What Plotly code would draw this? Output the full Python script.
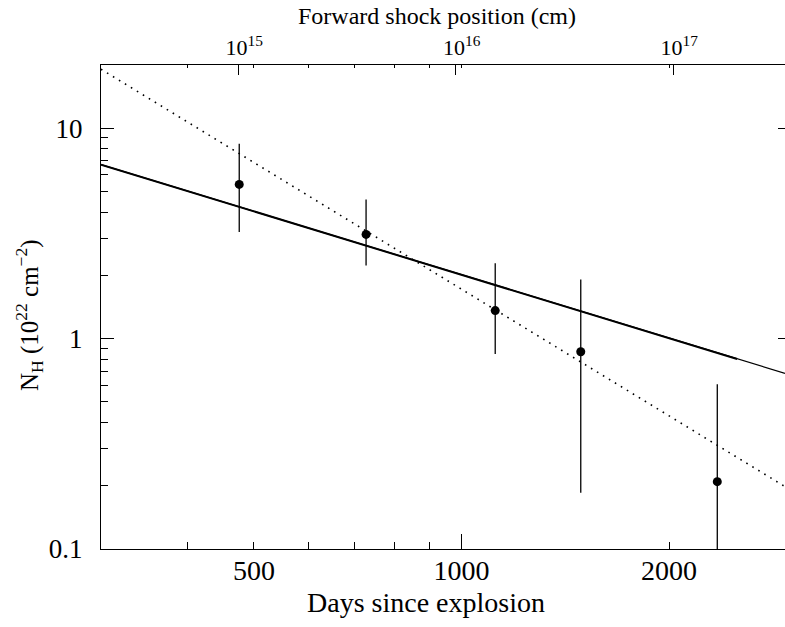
import plotly.graph_objects as go
import math

# ---- data ----
days = [476, 727, 1119, 1489, 2349]
nh = [5.41, 3.13, 1.36, 0.866, 0.209]
nh_lo = [3.21, 2.23, 0.845, 0.185, 0.1]
nh_hi = [8.44, 4.59, 2.28, 1.91, 0.607]

# model lines (endpoints)
solid_days = [300, 2945]
solid_nh = [6.72, 0.684]
solid_thick_days = [300, 2510]
solid_thick_nh = [6.72, 0.80]
dotted_days = [300, 2945]
dotted_nh = [19.1, 0.198]

x_ticks = [500, 1000, 2000]
x_ticktext = ["500", "1000", "2000"]
x_minor = [400, 600, 700, 800, 900]
y_ticks = [0.1, 1, 10]
y_ticktext = ["0.1", "1", "10"]
y_minor = [0.2, 0.3, 0.4, 0.5, 0.6, 0.7, 0.8, 0.9, 2, 3, 4, 5, 6, 7, 8, 9]
top_ticks = [1e15, 1e16, 1e17]
top_ticktext = ["10<sup>15</sup>", "10<sup>16</sup>", "10<sup>17</sup>"]
top_mirror_ticks = [400, 500, 600, 700, 800, 900, 1000, 2000]

x_title = "Days since explosion"
top_title = "Forward shock position (cm)"
y_title = "N<sub>H</sub> (10<sup>22</sup> cm<sup>\u22122</sup>)"

X_RANGE = [math.log10(300), math.log10(2945)]
Y_RANGE = [-1, math.log10(20)]
TOP_RANGE = [14.369, 17.514]

FONT = "Liberation Serif"
BLACK = "#000000"

W, H = 785, 627
ML, MR, MT, MB = 101, 0, 65, 78
PW = W - ML - MR
PH = H - MT - MB


def px_x(px):
    return (px - ML) / PW


def px_y(py):
    return (H - MB - py) / PH


fig = go.Figure()

fig.add_trace(go.Scatter(x=dotted_days, y=dotted_nh, mode="lines",
                         line=dict(color=BLACK, width=1.6, dash="1.6px,5.4px"),
                         showlegend=False, hoverinfo="skip"))
fig.add_trace(go.Scatter(x=solid_days, y=solid_nh, mode="lines",
                         line=dict(color=BLACK, width=1.2),
                         showlegend=False, hoverinfo="skip"))
fig.add_trace(go.Scatter(x=solid_thick_days, y=solid_thick_nh, mode="lines",
                         line=dict(color=BLACK, width=2.0),
                         showlegend=False, hoverinfo="skip"))

err_plus = [h - v for h, v in zip(nh_hi, nh)]
err_minus = [v - l for v, l in zip(nh, nh_lo)]
fig.add_trace(go.Scatter(x=days, y=nh, mode="markers",
                         marker=dict(color=BLACK, size=9),
                         error_y=dict(type="data", symmetric=False, array=err_plus,
                                      arrayminus=err_minus, width=0, thickness=1.3,
                                      color=BLACK),
                         showlegend=False))

# invisible traces for helper axes
fig.add_trace(go.Scatter(x=[1e15], y=[1], xaxis="x2", yaxis="y", mode="markers",
                         marker=dict(opacity=0), showlegend=False, hoverinfo="skip"))
fig.add_trace(go.Scatter(x=[1000], y=[1], xaxis="x3", yaxis="y", mode="markers",
                         marker=dict(opacity=0), showlegend=False, hoverinfo="skip"))
fig.add_trace(go.Scatter(x=[1000], y=[1], xaxis="x4", yaxis="y", mode="markers",
                         marker=dict(opacity=0), showlegend=False, hoverinfo="skip"))
fig.add_trace(go.Scatter(x=[1000], y=[1], xaxis="x", yaxis="y2", mode="markers",
                         marker=dict(opacity=0), showlegend=False, hoverinfo="skip"))

common = dict(showgrid=False, zeroline=False, color=BLACK)

fig.update_layout(
    width=W, height=H,
    margin=dict(l=ML, r=MR, t=MT, b=MB, pad=0),
    paper_bgcolor="white", plot_bgcolor="white",
    font=dict(family=FONT, size=27, color=BLACK),
    xaxis=dict(type="log", range=X_RANGE, tickmode="array", tickvals=x_ticks,
               ticktext=x_ticktext, ticks="inside", ticklen=7, tickwidth=1,
               tickcolor=BLACK, showline=True, linecolor=BLACK, linewidth=1.3,
               mirror=False, tickfont=dict(size=28, family=FONT),
               ticklabelstandoff=-4,
               minor=dict(tickvals=x_minor, ticks="inside", ticklen=7,
                          tickcolor=BLACK, tickwidth=1, showgrid=False),
               automargin=False, **common),
    xaxis3=dict(type="log", range=X_RANGE, overlaying="x", anchor="y", side="bottom",
                tickmode="array", tickvals=[1000], ticks="inside", ticklen=15,
                tickwidth=1, tickcolor=BLACK, showticklabels=False, showline=False,
                automargin=False, **common),
    xaxis4=dict(type="log", range=X_RANGE, overlaying="x", anchor="y", side="top",
                tickmode="array", tickvals=top_mirror_ticks, ticks="inside", ticklen=3,
                tickwidth=1, tickcolor=BLACK, showticklabels=False, showline=False,
                automargin=False, **common),
    xaxis2=dict(type="log", range=TOP_RANGE, overlaying="x", anchor="y", side="top",
                tickmode="array", tickvals=top_ticks, ticktext=top_ticktext,
                ticks="inside", ticklen=10, tickwidth=1, tickcolor=BLACK,
                showline=True, linecolor=BLACK, linewidth=1.3,
                tickfont=dict(size=22, family=FONT), ticklabelshift=6,
                automargin=False, **common),
    yaxis=dict(type="log", range=Y_RANGE, tickmode="array", tickvals=y_ticks,
               ticktext=y_ticktext, ticks="inside", ticklen=13, tickwidth=1,
               tickcolor=BLACK, showline=True, linecolor=BLACK, linewidth=1.3,
               tickfont=dict(size=27, family=FONT), ticklabelstandoff=12,
               minor=dict(tickvals=y_minor, ticks="inside", ticklen=7,
                          tickcolor=BLACK, tickwidth=1, showgrid=False),
               automargin=False, **common),
    yaxis2=dict(type="log", range=Y_RANGE, overlaying="y", anchor="x", side="right",
                tickmode="array", tickvals=[1, 10], ticks="inside", ticklen=7,
                tickwidth=1, tickcolor=BLACK, showticklabels=False, showline=False,
                automargin=False, **common),
    annotations=[
        dict(text=x_title, xref="paper", yref="paper", x=px_x(426), y=px_y(602),
             xanchor="center", yanchor="middle", showarrow=False,
             font=dict(size=28, family=FONT, color=BLACK)),
        dict(text=top_title, xref="paper", yref="paper", x=px_x(437), y=px_y(16),
             xanchor="center", yanchor="middle", showarrow=False,
             font=dict(size=24, family=FONT, color=BLACK)),
        dict(text=y_title, xref="paper", yref="paper", x=px_x(29), y=px_y(315),
             xanchor="center", yanchor="middle", showarrow=False, textangle=-90,
             font=dict(size=25, family=FONT, color=BLACK)),
    ],
)

fig.write_html("out.html")
